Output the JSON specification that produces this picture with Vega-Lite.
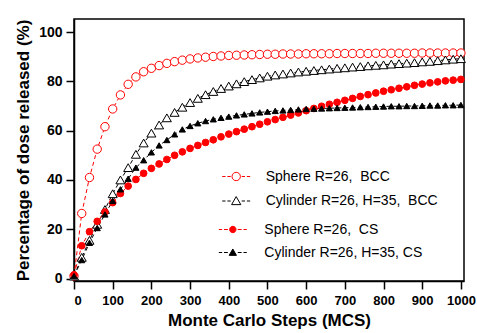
{
  "$schema": "https://vega.github.io/schema/vega-lite/v6.json",
  "width": 390,
  "height": 262,
  "autosize": {"type": "none"},
  "padding": {"left": 74, "top": 19, "right": 13, "bottom": 52},
  "background": "white",
  "config": {
    "view": {"stroke": "black", "strokeWidth": 1.5},
    "axis": {
      "domainColor": "black", "domainWidth": 1.5, "tickColor": "black", "tickWidth": 1.5, "tickSize": 8,
      "labelFont": "Liberation Sans", "labelFontWeight": "bold", "labelColor": "black",
      "titleFont": "Liberation Sans", "titleFontWeight": "bold", "titleFontSize": 17, "titleColor": "black",
      "grid": false
    }
  },
  "data": {"values": [
    {"mcs": 0, "Sphere BCC": 1, "Cylinder BCC": 1, "Sphere CS": 1.5, "Cylinder CS": 1},
    {"mcs": 20, "Sphere BCC": 26.4, "Cylinder BCC": 8.6, "Sphere CS": 13.3, "Cylinder CS": 7.5},
    {"mcs": 40, "Sphere BCC": 41, "Cylinder BCC": 15.5, "Sphere CS": 19, "Cylinder CS": 14.5},
    {"mcs": 60, "Sphere BCC": 52.5, "Cylinder BCC": 22, "Sphere CS": 23.2, "Cylinder CS": 20.5},
    {"mcs": 80, "Sphere BCC": 61.6, "Cylinder BCC": 28, "Sphere CS": 27, "Cylinder CS": 26},
    {"mcs": 100, "Sphere BCC": 68.8, "Cylinder BCC": 34.4, "Sphere CS": 30.8, "Cylinder CS": 31.5},
    {"mcs": 120, "Sphere BCC": 74.5, "Cylinder BCC": 40, "Sphere CS": 34.5, "Cylinder CS": 36.2},
    {"mcs": 140, "Sphere BCC": 78.8, "Cylinder BCC": 45, "Sphere CS": 37.5, "Cylinder CS": 40.5},
    {"mcs": 160, "Sphere BCC": 81.8, "Cylinder BCC": 50.4, "Sphere CS": 40.2, "Cylinder CS": 45},
    {"mcs": 180, "Sphere BCC": 83.9, "Cylinder BCC": 55, "Sphere CS": 42.7, "Cylinder CS": 48},
    {"mcs": 200, "Sphere BCC": 85.3, "Cylinder BCC": 59, "Sphere CS": 44.7, "Cylinder CS": 51.2},
    {"mcs": 220, "Sphere BCC": 86.4, "Cylinder BCC": 62.3, "Sphere CS": 46.5, "Cylinder CS": 54},
    {"mcs": 240, "Sphere BCC": 87.3, "Cylinder BCC": 65.2, "Sphere CS": 48.3, "Cylinder CS": 56.2},
    {"mcs": 260, "Sphere BCC": 88, "Cylinder BCC": 67.4, "Sphere CS": 50, "Cylinder CS": 58.5},
    {"mcs": 280, "Sphere BCC": 88.6, "Cylinder BCC": 69.5, "Sphere CS": 51.4, "Cylinder CS": 60.5},
    {"mcs": 300, "Sphere BCC": 89.1, "Cylinder BCC": 71.4, "Sphere CS": 52.8, "Cylinder CS": 61.9},
    {"mcs": 320, "Sphere BCC": 89.5, "Cylinder BCC": 73.1, "Sphere CS": 54, "Cylinder CS": 63},
    {"mcs": 340, "Sphere BCC": 89.8, "Cylinder BCC": 74.6, "Sphere CS": 55.2, "Cylinder CS": 63.9},
    {"mcs": 360, "Sphere BCC": 90.1, "Cylinder BCC": 75.9, "Sphere CS": 56.3, "Cylinder CS": 64.6},
    {"mcs": 380, "Sphere BCC": 90.3, "Cylinder BCC": 77.1, "Sphere CS": 57.5, "Cylinder CS": 65.2},
    {"mcs": 400, "Sphere BCC": 90.5, "Cylinder BCC": 78.1, "Sphere CS": 58.6, "Cylinder CS": 65.7},
    {"mcs": 420, "Sphere BCC": 90.6, "Cylinder BCC": 79, "Sphere CS": 59.6, "Cylinder CS": 66.2},
    {"mcs": 440, "Sphere BCC": 90.7, "Cylinder BCC": 79.9, "Sphere CS": 60.6, "Cylinder CS": 66.6},
    {"mcs": 460, "Sphere BCC": 90.8, "Cylinder BCC": 80.7, "Sphere CS": 61.6, "Cylinder CS": 67},
    {"mcs": 480, "Sphere BCC": 90.9, "Cylinder BCC": 81.4, "Sphere CS": 62.6, "Cylinder CS": 67.4},
    {"mcs": 500, "Sphere BCC": 91, "Cylinder BCC": 82.1, "Sphere CS": 63.6, "Cylinder CS": 67.7},
    {"mcs": 520, "Sphere BCC": 91, "Cylinder BCC": 82.6, "Sphere CS": 64.5, "Cylinder CS": 68},
    {"mcs": 540, "Sphere BCC": 91.1, "Cylinder BCC": 83, "Sphere CS": 65.4, "Cylinder CS": 68.2},
    {"mcs": 560, "Sphere BCC": 91.1, "Cylinder BCC": 83.4, "Sphere CS": 66.3, "Cylinder CS": 68.4},
    {"mcs": 580, "Sphere BCC": 91.1, "Cylinder BCC": 83.8, "Sphere CS": 67.2, "Cylinder CS": 68.6},
    {"mcs": 600, "Sphere BCC": 91.2, "Cylinder BCC": 84.1, "Sphere CS": 68.1, "Cylinder CS": 68.8},
    {"mcs": 620, "Sphere BCC": 91.2, "Cylinder BCC": 84.4, "Sphere CS": 69, "Cylinder CS": 68.9},
    {"mcs": 640, "Sphere BCC": 91.2, "Cylinder BCC": 84.7, "Sphere CS": 69.9, "Cylinder CS": 69},
    {"mcs": 660, "Sphere BCC": 91.2, "Cylinder BCC": 85, "Sphere CS": 70.7, "Cylinder CS": 69.1},
    {"mcs": 680, "Sphere BCC": 91.3, "Cylinder BCC": 85.3, "Sphere CS": 71.5, "Cylinder CS": 69.2},
    {"mcs": 700, "Sphere BCC": 91.3, "Cylinder BCC": 85.5, "Sphere CS": 72.3, "Cylinder CS": 69.3},
    {"mcs": 720, "Sphere BCC": 91.3, "Cylinder BCC": 85.8, "Sphere CS": 73.1, "Cylinder CS": 69.4},
    {"mcs": 740, "Sphere BCC": 91.3, "Cylinder BCC": 86, "Sphere CS": 73.9, "Cylinder CS": 69.5},
    {"mcs": 760, "Sphere BCC": 91.3, "Cylinder BCC": 86.3, "Sphere CS": 74.6, "Cylinder CS": 69.6},
    {"mcs": 780, "Sphere BCC": 91.4, "Cylinder BCC": 86.5, "Sphere CS": 75.3, "Cylinder CS": 69.7},
    {"mcs": 800, "Sphere BCC": 91.4, "Cylinder BCC": 86.7, "Sphere CS": 76, "Cylinder CS": 69.8},
    {"mcs": 820, "Sphere BCC": 91.4, "Cylinder BCC": 87, "Sphere CS": 76.6, "Cylinder CS": 69.9},
    {"mcs": 840, "Sphere BCC": 91.4, "Cylinder BCC": 87.2, "Sphere CS": 77.2, "Cylinder CS": 69.9},
    {"mcs": 860, "Sphere BCC": 91.4, "Cylinder BCC": 87.4, "Sphere CS": 77.8, "Cylinder CS": 70},
    {"mcs": 880, "Sphere BCC": 91.4, "Cylinder BCC": 87.6, "Sphere CS": 78.4, "Cylinder CS": 70},
    {"mcs": 900, "Sphere BCC": 91.5, "Cylinder BCC": 87.9, "Sphere CS": 78.9, "Cylinder CS": 70.1},
    {"mcs": 920, "Sphere BCC": 91.5, "Cylinder BCC": 88.1, "Sphere CS": 79.4, "Cylinder CS": 70.2},
    {"mcs": 940, "Sphere BCC": 91.5, "Cylinder BCC": 88.4, "Sphere CS": 79.8, "Cylinder CS": 70.2},
    {"mcs": 960, "Sphere BCC": 91.5, "Cylinder BCC": 88.7, "Sphere CS": 80.2, "Cylinder CS": 70.3},
    {"mcs": 980, "Sphere BCC": 91.5, "Cylinder BCC": 89, "Sphere CS": 80.5, "Cylinder CS": 70.3},
    {"mcs": 1000, "Sphere BCC": 91.5, "Cylinder BCC": 89.2, "Sphere CS": 80.8, "Cylinder CS": 70.4}
  ]},
  "transform": [{"fold": ["Sphere BCC", "Cylinder BCC", "Sphere CS", "Cylinder CS"], "as": ["series", "pct"]}],
  "encoding": {
    "x": {"field": "mcs", "type": "quantitative", "scale": {"domain": [0, 1008], "nice": false, "zero": false},
      "axis": {"values": [0, 100, 200, 300, 400, 500, 600, 700, 800, 900, 1000], "format": "d", "labelFontSize": 13, "labelPadding": 5,
        "title": "Monte Carlo Steps (MCS)", "titlePadding": 5}},
    "y": {"field": "pct", "type": "quantitative", "scale": {"domain": [-1, 105.3], "nice": false, "zero": false},
      "axis": {"values": [0, 20, 40, 60, 80, 100], "labelFontSize": 14, "labelPadding": 4,
        "title": "Percentage of dose released (%)", "titlePadding": 6}}
  },
  "layer": [
    {
      "mark": {"type": "line", "strokeDash": [4, 3], "strokeWidth": 1},
      "encoding": {
        "detail": {"field": "series", "type": "nominal"},
        "stroke": {"condition": {"test": "indexof(datum.series, 'Sphere') == 0", "value": "#ff0000"}, "value": "#000000"}
      }
    },
    {
      "transform": [{"filter": {"field": "series", "oneOf": ["Sphere BCC", "Cylinder BCC"]}}],
      "mark": {"type": "point", "strokeWidth": 1, "opacity": 1},
      "encoding": {
        "stroke": {"field": "series", "type": "nominal", "scale": {"domain": ["Sphere BCC", "Cylinder BCC"], "range": ["#ff0000", "#000000"]},
          "legend": {"orient": "none", "legendX": 150.7, "legendY": 146, "title": null, "padding": 0, "symbolSize": 484, "symbolStrokeWidth": 1,
            "labelFont": "Liberation Sans", "labelFontSize": 14, "labelColor": "black", "labelOffset": 18, "rowPadding": 5.5, "labelLimit": 300,
            "labelExpr": "datum.value == 'Sphere BCC' ? 'Sphere R=26,\u00a0 BCC' : 'Cylinder R=26, H=35,\u00a0 BCC'",
            "symbolType": {"expr": "datum.value == 'Sphere BCC' ? 'M-1.27,0L-0.97,0M-0.8,0L-0.5,0M0.5,0L0.8,0M0.97,0L1.27,0M0.38,0A0.38,0.38,0,1,1,-0.38,0A0.38,0.38,0,1,1,0.38,0Z' : 'M-1.27,0L-0.97,0M-0.8,0L-0.5,0M0.5,0L0.8,0M0.97,0L1.27,0M0,-0.4L0.42,0.33L-0.42,0.33Z'"}}},
        "fill": {"field": "series", "type": "nominal", "scale": {"domain": ["Sphere BCC", "Cylinder BCC"], "range": ["#ffffff", "#ffffff"]}},
        "shape": {"field": "series", "type": "nominal", "scale": {"domain": ["Cylinder BCC", "Sphere BCC"], "range": ["triangle-up", "circle"]}, "legend": null},
        "size": {"condition": {"test": "datum.series == 'Sphere BCC'", "value": 70}, "value": 81}
      }
    },
    {
      "transform": [{"filter": {"field": "series", "oneOf": ["Sphere CS", "Cylinder CS"]}}],
      "mark": {"type": "point", "strokeWidth": 1, "opacity": 1},
      "encoding": {
        "stroke": {"field": "series", "type": "nominal", "scale": {"domain": ["Sphere CS", "Cylinder CS"], "range": ["#ff0000", "#000000"]},
          "legend": {"orient": "none", "legendX": 147.3, "legendY": 199, "title": null, "padding": 0, "symbolSize": 484, "symbolStrokeWidth": 1,
            "labelFont": "Liberation Sans", "labelFontSize": 14, "labelColor": "black", "labelOffset": 20, "rowPadding": 4, "labelLimit": 300,
            "labelExpr": "datum.value == 'Sphere CS' ? 'Sphere R=26,\u00a0 CS' : 'Cylinder R=26, H=35, CS'",
            "symbolType": {"expr": "datum.value == 'Sphere CS' ? 'M-1.27,0L-0.97,0M-0.8,0L-0.45,0M0.45,0L0.8,0M0.97,0L1.27,0M0.29,0A0.29,0.29,0,1,1,-0.29,0A0.29,0.29,0,1,1,0.29,0Z' : 'M-1.27,0L-0.97,0M-0.8,0L-0.45,0M0.45,0L0.8,0M0.97,0L1.27,0M0,-0.32L0.33,0.26L-0.33,0.26Z'"}}},
        "fill": {"field": "series", "type": "nominal", "scale": {"domain": ["Sphere CS", "Cylinder CS"], "range": ["#ff0000", "#000000"]}},
        "shape": {"field": "series", "type": "nominal", "scale": {"domain": ["Cylinder CS", "Sphere CS"], "range": ["triangle-up", "circle"]}, "legend": null},
        "size": {"condition": {"test": "datum.series == 'Sphere CS'", "value": 45}, "value": 38}
      }
    }
  ],
  "resolve": {"scale": {"stroke": "independent", "fill": "independent", "shape": "independent"}}
}
